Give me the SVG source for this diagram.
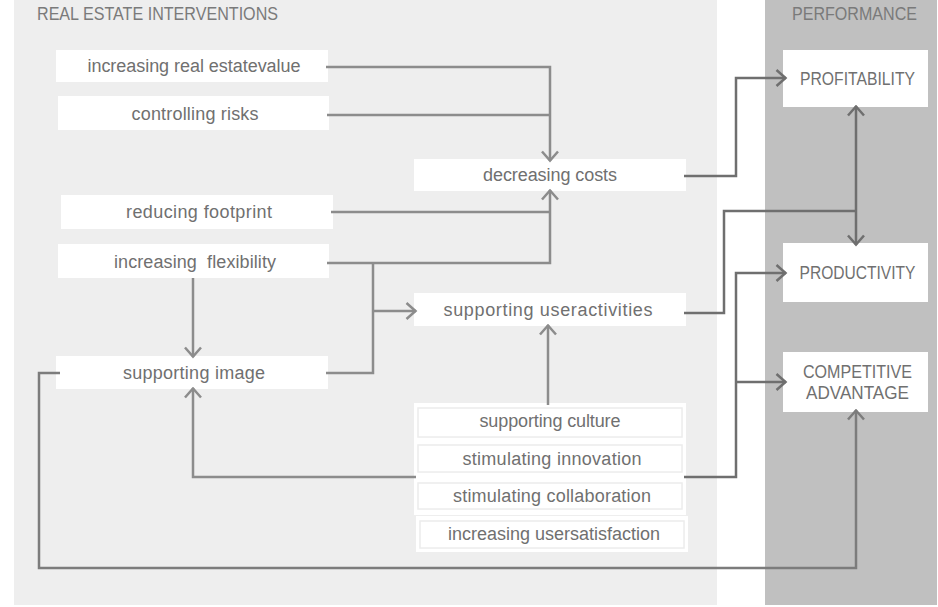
<svg xmlns="http://www.w3.org/2000/svg" width="938" height="607" viewBox="0 0 938 607">
  <style>
    .panel-l { fill: #eeeeee; }
    .panel-r { fill: #c0c0c0; }
    .box { fill: #ffffff; }
    .inner { fill: #ffffff; stroke: #ececec; stroke-width: 1.5; }
    .head { font-family: "Liberation Sans", Arial, sans-serif; font-size: 18px; fill: #7a7a7a; }
    .lbl { font-family: "Liberation Sans", Arial, sans-serif; font-size: 18px; fill: #707070; text-anchor: middle; }
    .cap { font-family: "Liberation Sans", Arial, sans-serif; font-size: 18px; fill: #707070; text-anchor: middle; }
    .c1 { fill: none; stroke: #8c8c8c; stroke-width: 2.5; }
    .c2 { fill: none; stroke: #6f6f6f; stroke-width: 2.5; }
    .c3 { fill: none; stroke: #7c7c7c; stroke-width: 2.5; }
  </style>
  <defs>
    <marker id="ah1" viewBox="0 0 13 20" markerWidth="13" markerHeight="20" refX="11.5" refY="10" orient="auto" markerUnits="userSpaceOnUse">
      <path d="M2,2 L11,10 L2,18" fill="none" stroke="#8c8c8c" stroke-width="2.5"/>
    </marker>
    <marker id="ah2" viewBox="0 0 13 20" markerWidth="13" markerHeight="20" refX="11.5" refY="10" orient="auto" markerUnits="userSpaceOnUse">
      <path d="M2,2 L11,10 L2,18" fill="none" stroke="#6f6f6f" stroke-width="2.5"/>
    </marker>
    <marker id="ah3" viewBox="0 0 13 20" markerWidth="13" markerHeight="20" refX="11.5" refY="10" orient="auto" markerUnits="userSpaceOnUse">
      <path d="M2,2 L11,10 L2,18" fill="none" stroke="#7c7c7c" stroke-width="2.5"/>
    </marker>
  </defs>

  <rect width="938" height="607" fill="#ffffff"/>

  <!-- column backgrounds -->
  <rect class="panel-l" x="14" y="0" width="703" height="605"/>
  <rect class="panel-r" x="765" y="0" width="172" height="605"/>
  <text class="head" x="37" y="20" textLength="241" lengthAdjust="spacingAndGlyphs">REAL ESTATE INTERVENTIONS</text>
  <text class="head" x="792" y="20" textLength="125" lengthAdjust="spacingAndGlyphs">PERFORMANCE</text>

  <!-- intervention nodes -->
  <g id="real-estate-value">
    <rect class="box" x="56" y="50" width="272" height="32"/>
    <text class="lbl" x="194" y="72" textLength="213">increasing real estatevalue</text>
  </g>
  <g id="controlling-risks">
    <rect class="box" x="58" y="96" width="271" height="34"/>
    <text class="lbl" x="195" y="120" textLength="127">controlling risks</text>
  </g>
  <g id="decreasing-costs">
    <rect class="box" x="414" y="159" width="272" height="32"/>
    <text class="lbl" x="550" y="181" textLength="134">decreasing costs</text>
  </g>
  <g id="reducing-footprint">
    <rect class="box" x="61" y="195" width="272" height="34"/>
    <text class="lbl" x="199" y="218" textLength="146">reducing footprint</text>
  </g>
  <g id="increasing-flexibility">
    <rect class="box" x="58" y="244" width="271" height="34"/>
    <text class="lbl" x="195" y="268" textLength="162" xml:space="preserve">increasing  flexibility</text>
  </g>
  <g id="supporting-user-activities">
    <rect class="box" x="414" y="293" width="272" height="33"/>
    <text class="lbl" x="548" y="316" textLength="209">supporting useractivities</text>
  </g>
  <g id="supporting-image">
    <rect class="box" x="56" y="356" width="272" height="33"/>
    <text class="lbl" x="194" y="379" textLength="142">supporting image</text>
  </g>

  <!-- stacked user-side interventions -->
  <g id="user-interventions">
    <rect class="box" x="414" y="403" width="272" height="112"/>
    <rect class="box" x="416" y="516" width="272" height="36"/>
  </g>
  <g id="supporting-culture">
    <rect class="inner" x="418" y="408" width="264" height="29"/>
    <text class="lbl" x="550" y="427" textLength="141">supporting culture</text>
  </g>
  <g id="stimulating-innovation">
    <rect class="inner" x="418" y="445" width="264" height="27"/>
    <text class="lbl" x="552" y="465" textLength="179">stimulating innovation</text>
  </g>
  <g id="stimulating-collaboration">
    <rect class="inner" x="418" y="483" width="264" height="26"/>
    <text class="lbl" x="552" y="502" textLength="198">stimulating collaboration</text>
  </g>
  <g id="increasing-user-satisfaction">
    <rect class="inner" x="420" y="521" width="264" height="27"/>
    <text class="lbl" x="554" y="540" textLength="212">increasing usersatisfaction</text>
  </g>

  <!-- performance nodes -->
  <g id="profitability">
    <rect class="box" x="783" y="50" width="145" height="57"/>
    <text class="cap" x="857.5" y="85" textLength="115" lengthAdjust="spacingAndGlyphs">PROFITABILITY</text>
  </g>
  <g id="productivity">
    <rect class="box" x="783" y="243" width="145" height="59"/>
    <text class="cap" x="857.5" y="279" textLength="116" lengthAdjust="spacingAndGlyphs">PRODUCTIVITY</text>
  </g>
  <g id="competitive-advantage">
    <rect class="box" x="783" y="352" width="145" height="60"/>
    <text class="cap" x="857.5" y="378" textLength="109" lengthAdjust="spacingAndGlyphs">COMPETITIVE</text>
    <text class="cap" x="857.5" y="399" textLength="103" lengthAdjust="spacingAndGlyphs">ADVANTAGE</text>
  </g>

  <!-- connectors -->
  <g id="connectors">
    <path class="c1" d="M326,67 H550 V161" marker-end="url(#ah1)"/>
    <path class="c1" d="M327,115 H550"/>
    <path class="c1" d="M331,212 H550"/>
    <path class="c1" d="M327,263 H550 V190" marker-end="url(#ah1)"/>
    <path class="c1" d="M373,263 V373 H326"/>
    <path class="c1" d="M373,311 H416" marker-end="url(#ah1)"/>
    <path class="c1" d="M193,278 V357" marker-end="url(#ah1)"/>
    <path class="c1" d="M416,477 H193 V388" marker-end="url(#ah1)"/>
    <path class="c1" d="M548,405 V325" marker-end="url(#ah1)"/>
    <path class="c3" d="M60,373 H39 V568 H856 V410" marker-end="url(#ah3)"/>

    <path class="c2" d="M684,176 H736 V78 H786" marker-end="url(#ah2)"/>
    <path class="c2" d="M684,313 H724 V211 H856"/>
    <path class="c2" d="M856,211 V106" marker-end="url(#ah2)"/>
    <path class="c2" d="M856,211 V245" marker-end="url(#ah2)"/>
    <path class="c2" d="M684,477 H736 V273 H786" marker-end="url(#ah2)"/>
    <path class="c2" d="M736,382 H786" marker-end="url(#ah2)"/>
  </g>
</svg>
